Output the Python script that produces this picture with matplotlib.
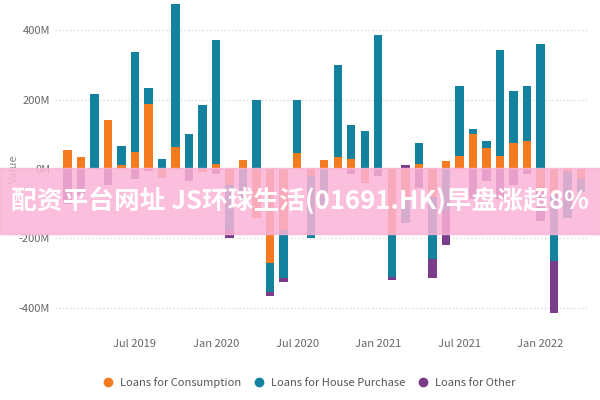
import matplotlib.pyplot as plt
from matplotlib.lines import Line2D
import numpy as np
import pandas as pd

plt.rcParams['font.family'] = ['Noto Sans CJK SC', 'DejaVu Sans']

months = pd.date_range('2019-02-01', '2022-04-01', freq='MS')
consumption = [56, 35, 0, 142, 12, 48, 188, -25, 62, 0, -10, 15,
               -45, 25, -140, -270, -175, 45, -20, 25, 35, 28, -40, 0,
               -190, -80, 15, -80, 22, 38, 100, 60, 38, 75, 80, -65,
               -75, -10, -30]
house = [0, 0, 215, 0, 55, 290, 45, 28, 413, 100, 185, 355,
         -130, -85, 200, -85, -140, 155, -180, -110, 265, 100, 110, 385,
         -120, -75, 60, -180, -120, 200, 15, 20, 305, 150, 160, 360,
         -190, -130, -35]
other = [-100, -75, 0, -45, 0, -30, -5, 0, 10, -35, 0, -15,
         -25, 0, 0, -10, -10, 0, 0, 0, 0, -15, 0, -20,
         -10, 12, -55, -55, -100, 0, -85, -35, -85, -45, -15, -85,
         -150, 0, 0]

names = ['Loans for Consumption', 'Loans for House Purchase', 'Loans for Other']
colors = ['#F47B20', '#12829E', '#7B3C8A']

fig = plt.figure(figsize=(6, 4), dpi=100)
ax = fig.add_axes([0.092, 0.165, 0.89, 0.825])
x = np.arange(len(months))
pos = np.zeros(len(x))
neg = np.zeros(len(x))
for vals, name, c in zip([consumption, house, other], names, colors):
    v = np.array(vals, dtype=float)
    bottom = np.where(v >= 0, pos, neg)
    ax.bar(x, v, bottom=bottom, width=0.62, color=c, label=name)
    pos += np.where(v >= 0, v, 0)
    neg += np.where(v < 0, v, 0)

ax.set_ylim(-475, 475)
ax.set_xlim(-0.9, len(x) - 0.4)
ax.set_yticks([-400, -200, 0, 200, 400])
ax.set_yticklabels(['-400M', '-200M', '0M', '200M', '400M'], color='#666666', fontsize=8)
ticks = [i for i, m in enumerate(months) if m.month in (1, 7)]
ax.set_xticks(ticks)
ax.set_xticklabels([months[i].strftime('%b %Y') for i in ticks], color='#666666', fontsize=8)
ax.tick_params(length=0)
ax.grid(axis='y', color='#dddddd', linestyle=':', linewidth=1)
ax.set_axisbelow(True)
for s in ax.spines.values():
    s.set_visible(False)
ax.set_ylabel('Value', color='#888888', fontsize=8, labelpad=0)

handles = [Line2D([], [], marker='o', linestyle='', color=c, markersize=6) for c in colors]
ax.legend(handles, names, loc='upper center', bbox_to_anchor=(0.47, -0.1), ncol=3, frameon=False,
          fontsize=8, columnspacing=0.6, handletextpad=0.1, labelcolor='#555555')

# pink banner over the chart
fig.patches.append(plt.Rectangle((0, 0.415), 1, 0.165, transform=fig.transFigure,
                                 color='#FBB3D6', alpha=0.85, zorder=5))
fig.text(0.5, 0.497, '配资平台网址 JS环球生活(01691.HK)早盘涨超8%', ha='center', va='center',
         color='white', fontsize=18.5, fontweight='bold', zorder=6)

fig.savefig('out.png')
